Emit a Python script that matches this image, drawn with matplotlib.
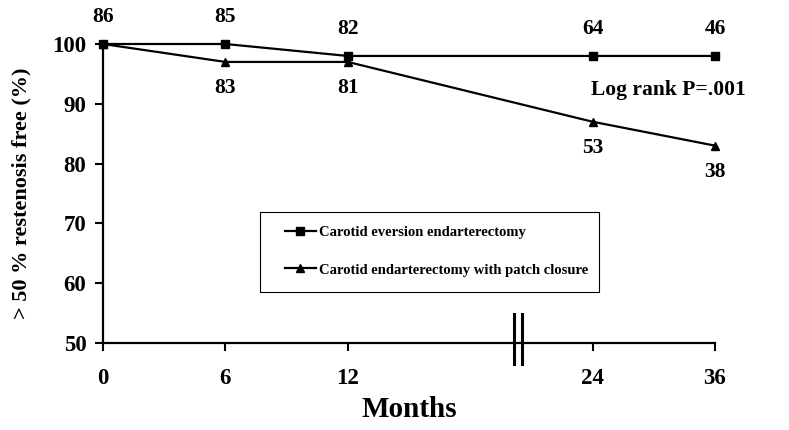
import matplotlib
matplotlib.use("Agg")
import matplotlib.pyplot as plt
from matplotlib.lines import Line2D
from matplotlib.patches import Rectangle

plt.rcParams['font.family'] = ['Liberation Serif', 'DejaVu Serif']
plt.rcParams['font.weight'] = 'bold'

# Data
months = ["0", "6", "12", "24", "36"]
xpos = [0, 1, 2, 4, 5]  # axis is broken between 12 and 24
eversion = [100, 100, 98, 98, 98]
patch = [100, 97, 97, 87, 83]
n_eversion = [86, 85, 82, 64, 46]
n_patch = [None, 83, 81, 53, 38]

fig = plt.figure(figsize=(7.89, 4.30), dpi=100)
ax = fig.add_axes([103 / 789, 1 - 343 / 430, 612 / 789, 299 / 430])

ax.plot(xpos, eversion, color="black", lw=1.6, marker="s", ms=6,
        clip_on=False, zorder=3, label="Carotid eversion endarterectomy")
ax.plot(xpos, patch, color="black", lw=1.6, marker="^", ms=6,
        clip_on=False, zorder=3, label="Carotid endarterectomy with patch closure")

# numbers at risk
for x, y, n in zip(xpos, eversion, n_eversion):
    ax.annotate(str(n), (x, y), xytext=(0, 27), textcoords="offset pixels",
                ha="center", va="center", fontsize=15.5, fontweight="bold")
for x, y, n in zip(xpos, patch, n_patch):
    if n is None:
        continue
    ax.annotate(str(n), (x, y), xytext=(0, -26), textcoords="offset pixels",
                ha="center", va="center", fontsize=15.5, fontweight="bold")

ax.text(4.62, 92.3, "Log rank P=.001", ha="center", va="center",
        fontsize=15.5, fontweight="bold")

ax.set_xlim(0, 5)
ax.set_ylim(50, 100)
ax.set_xticks(xpos)
ax.set_xticklabels(months)
ax.set_yticks([50, 60, 70, 80, 90, 100])
ax.tick_params(axis="both", labelsize=16.5, width=1.5, length=6, direction="out")
ax.tick_params(axis="x", pad=12)
ax.tick_params(axis="y", pad=6)
for lab in ax.get_xticklabels() + ax.get_yticklabels():
    lab.set_fontweight("bold")

for s in ["top", "right"]:
    ax.spines[s].set_visible(False)
for s in ["left", "bottom"]:
    ax.spines[s].set_linewidth(1.6)

# axis break marks
bx = 3.39
for dx in (-0.03, 0.03):
    ax.add_line(Line2D([bx + dx, bx + dx], [46.5, 54.9], color="black",
                       lw=2.2, clip_on=False))

ax.set_xlabel("Months", fontsize=21, fontweight="bold", labelpad=5)
ax.set_ylabel("> 50 % restenosis free (%)", fontsize=16, fontweight="bold",
              labelpad=15)

# legend: frame drawn separately so the entries can sit indented
fig.patches.append(Rectangle((260 / 789, 1 - 292 / 430), 339 / 789, 80 / 430,
                             transform=fig.transFigure, fill=False,
                             edgecolor="black", lw=0.8))
leg = ax.legend(loc="center left", bbox_to_anchor=(285 / 789, 1 - 251 / 430),
                bbox_transform=fig.transFigure,
                prop={"family": "Liberation Serif", "weight": "bold", "size": 10.5},
                frameon=False, borderpad=0, labelspacing=1.7, handlelength=2.1,
                handletextpad=0.25, borderaxespad=0)

fig.savefig("out.png", dpi=100)
